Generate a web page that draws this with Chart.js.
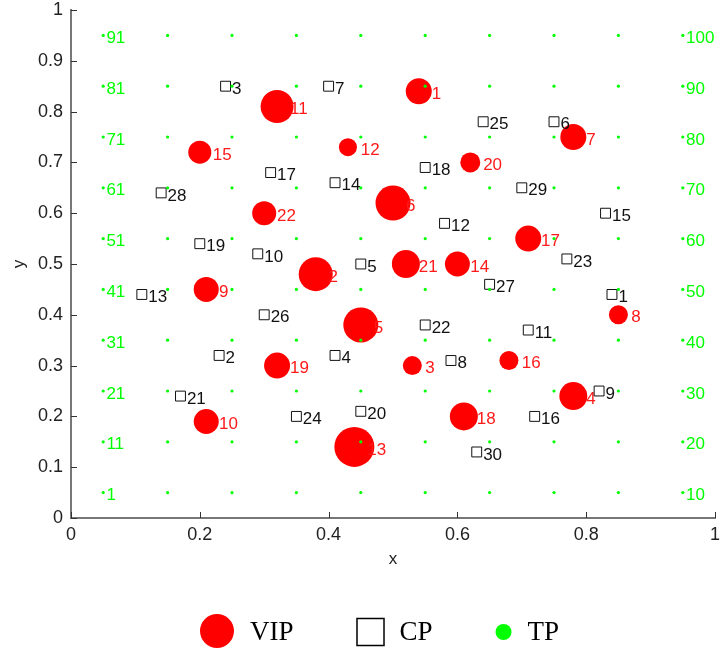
<!DOCTYPE html>
<html>
<head>
<meta charset="utf-8">
<script src="https://cdn.jsdelivr.net/npm/chart.js@4.4.0/dist/chart.umd.min.js"></script>
<style>
  html, body { margin: 0; padding: 0; background: #fff; }
</style>
</head>
<body>
<canvas id="chart" width="721" height="650"></canvas>
<script>
// VIP points (red circles), numbered 1..22
var vipX = [0.54, 0.38, 0.53, 0.78, 0.45, 0.50, 0.78, 0.85, 0.21, 0.21, 0.32,
            0.43, 0.44, 0.60, 0.20, 0.68, 0.71, 0.61, 0.32, 0.62, 0.52, 0.30];
var vipY = [0.84, 0.48, 0.30, 0.24, 0.38, 0.62, 0.75, 0.40, 0.45, 0.19, 0.81,
            0.73, 0.14, 0.50, 0.72, 0.31, 0.55, 0.20, 0.30, 0.70, 0.50, 0.60];
var vipWeight = [13, 17, 9.5, 14, 17.5, 17.5, 13, 9.5, 12.5, 12.5, 16.5,
                 9, 20, 12.5, 11.5, 9.5, 13, 14, 13, 10, 14, 12];

// CP points (black squares), numbered 1..30
var cpX = [0.84, 0.23, 0.24, 0.41, 0.45, 0.75, 0.40, 0.59, 0.82, 0.29, 0.71, 0.58, 0.11, 0.41, 0.83,
           0.72, 0.31, 0.55, 0.20, 0.45, 0.17, 0.55, 0.77, 0.35, 0.64, 0.30, 0.65, 0.14, 0.70, 0.63];
var cpY = [0.44, 0.32, 0.85, 0.32, 0.50, 0.78, 0.85, 0.31, 0.25, 0.52, 0.37, 0.58, 0.44, 0.66, 0.60,
           0.20, 0.68, 0.69, 0.54, 0.21, 0.24, 0.38, 0.51, 0.20, 0.78, 0.40, 0.46, 0.64, 0.65, 0.13];

// TP grid (green dots), numbered row by row 1..100
var tpCols = [0.05, 0.15, 0.25, 0.35, 0.45, 0.55, 0.65, 0.75, 0.85, 0.95];
var tpRows = [0.05, 0.15, 0.25, 0.35, 0.45, 0.55, 0.65, 0.75, 0.85, 0.95];
var tpLabelled = [1, 11, 21, 31, 41, 51, 61, 71, 81, 91,
                  10, 20, 30, 40, 50, 60, 70, 80, 90, 100];

var xTickStep = 0.2;
var yTickStep = 0.1;

var legendItems = ['VIP', 'CP', 'TP'];

// build point tables
var vipData = vipX.map(function(x, i) {
    return { x: x, y: vipY[i], r: vipWeight[i], label: String(i + 1) };
});
var cpData = cpX.map(function(x, i) {
    return { x: x, y: cpY[i], label: String(i + 1) };
});
var tpData = [];
tpRows.forEach(function(y, r) {
    tpCols.forEach(function(x, c) {
        var id = r * tpCols.length + c + 1;
        tpData.push({ x: x, y: y, label: tpLabelled.indexOf(id) >= 0 ? String(id) : null });
    });
});

var sans = '"Liberation Sans", Arial, sans-serif';
var serif = '"Liberation Serif", "Times New Roman", serif';

// "1" instead of "1.0", like matlab
function tickText(v) {
    return String(Number(v.toFixed(1)));
}

// number labels next to each point, drawn right after its own dataset
var pointLabels = {
    id: 'pointLabels',
    afterDatasetDraw: function(chart, args) {
        var ds = chart.data.datasets[args.index];
        var ctx = chart.ctx;
        var xs = chart.scales.x, ys = chart.scales.y;
        ctx.save();
        ctx.font = '17px ' + sans;
        ctx.textAlign = 'left';
        ctx.textBaseline = 'middle';
        ctx.fillStyle = ds.labelColor;
        ds.data.forEach(function(p) {
            if (!p.label) return;
            ctx.fillText(p.label, xs.getPixelForValue(p.x + ds.labelDx), ys.getPixelForValue(p.y) + 3);
        });
        ctx.restore();
    }
};

// matlab style ticks pointing into the plot
var innerTicks = {
    id: 'innerTicks',
    afterDraw: function(chart) {
        var ctx = chart.ctx, a = chart.chartArea;
        var xs = chart.scales.x, ys = chart.scales.y;
        ctx.save();
        ctx.strokeStyle = '#333';
        ctx.lineWidth = 1;
        ctx.beginPath();
        xs.ticks.forEach(function(t) {
            var px = Math.round(xs.getPixelForValue(t.value)) + 0.5;
            ctx.moveTo(px, a.bottom);
            ctx.lineTo(px, a.bottom - 6);
        });
        ys.ticks.forEach(function(t) {
            var py = Math.round(ys.getPixelForValue(t.value)) + 0.5;
            ctx.moveTo(a.left, py);
            ctx.lineTo(a.left + 6, py);
        });
        ctx.stroke();
        ctx.restore();
    }
};

// legend under the plot
var bottomLegend = {
    id: 'bottomLegend',
    afterDraw: function(chart) {
        var ctx = chart.ctx;
        var y = 631;
        var x = 200;
        ctx.save();
        ctx.font = '27px ' + serif;
        ctx.textBaseline = 'middle';
        ctx.textAlign = 'left';
        legendItems.forEach(function(name, i) {
            var w;
            if (i === 0) {
                w = 34;
                ctx.fillStyle = '#ff0000';
                ctx.beginPath();
                ctx.arc(x + w / 2, y, w / 2, 0, Math.PI * 2);
                ctx.fill();
            } else if (i === 1) {
                w = 27;
                ctx.strokeStyle = '#000';
                ctx.lineWidth = 1.5;
                ctx.strokeRect(x + 0.5, y - 12.5, w, w);
            } else {
                w = 16;
                ctx.fillStyle = '#00ff00';
                ctx.beginPath();
                ctx.arc(x + w / 2, y + 1, w / 2, 0, Math.PI * 2);
                ctx.fill();
            }
            x += w + 16;
            ctx.fillStyle = '#000';
            ctx.fillText(name, x, y + 2);
            x += ctx.measureText(name).width + 63;
        });
        ctx.restore();
    }
};

var ctx = document.getElementById('chart').getContext('2d');
var chart = new Chart(ctx, {
    type: 'scatter',
    data: {
        datasets: [{
            label: 'TP',
            data: tpData,
            order: 0,
            pointStyle: 'circle',
            pointRadius: 1.6,
            backgroundColor: '#00ff00',
            borderWidth: 0,
            labelColor: '#00ff00',
            labelDx: 0.005
        }, {
            label: 'CP',
            data: cpData,
            order: 1,
            pointStyle: 'rect',
            pointRadius: 7,
            backgroundColor: 'rgba(0,0,0,0)',
            borderColor: '#111',
            borderWidth: 1,
            labelColor: '#111',
            labelDx: 0.01
        }, {
            type: 'bubble',
            label: 'VIP',
            data: vipData,
            order: 2,
            backgroundColor: '#ff0000',
            borderWidth: 0,
            labelColor: '#ff1a1a',
            labelDx: 0.02
        }]
    },
    options: {
        responsive: false,
        animation: false,
        devicePixelRatio: 1,
        layout: { autoPadding: false, padding: { top: 10, right: 6, bottom: 72, left: 0 } },
        plugins: {
            legend: { display: false },
            tooltip: { enabled: false }
        },
        scales: {
            x: {
                type: 'linear',
                min: 0,
                max: 1,
                ticks: { stepSize: xTickStep, padding: 6, color: '#222', font: { family: sans, size: 18 }, maxRotation: 0, callback: tickText },
                grid: { display: false, drawTicks: false },
                border: { display: true, color: '#777', width: 2 },
                title: { display: true, text: 'x', color: '#222', font: { family: sans, size: 17 }, padding: { top: 0, bottom: 8 } },
                afterFit: function(s) {
                    s.height = 60;
                    s.paddingLeft = 0;
                    s.paddingRight = 0;
                }
            },
            y: {
                type: 'linear',
                min: 0,
                max: 1,
                ticks: { stepSize: yTickStep, padding: 8, color: '#222', font: { family: sans, size: 18 }, callback: tickText },
                grid: { display: false, drawTicks: false },
                border: { display: true, color: '#777', width: 2 },
                title: { display: true, text: 'y', color: '#222', font: { family: sans, size: 17 }, padding: { top: 9, bottom: 0 } },
                afterFit: function(s) {
                    s.width = 71;
                    s.paddingTop = 0;
                    s.paddingBottom = 0;
                }
            }
        }
    },
    plugins: [pointLabels, innerTicks, bottomLegend]
});
</script>
</body>
</html>
